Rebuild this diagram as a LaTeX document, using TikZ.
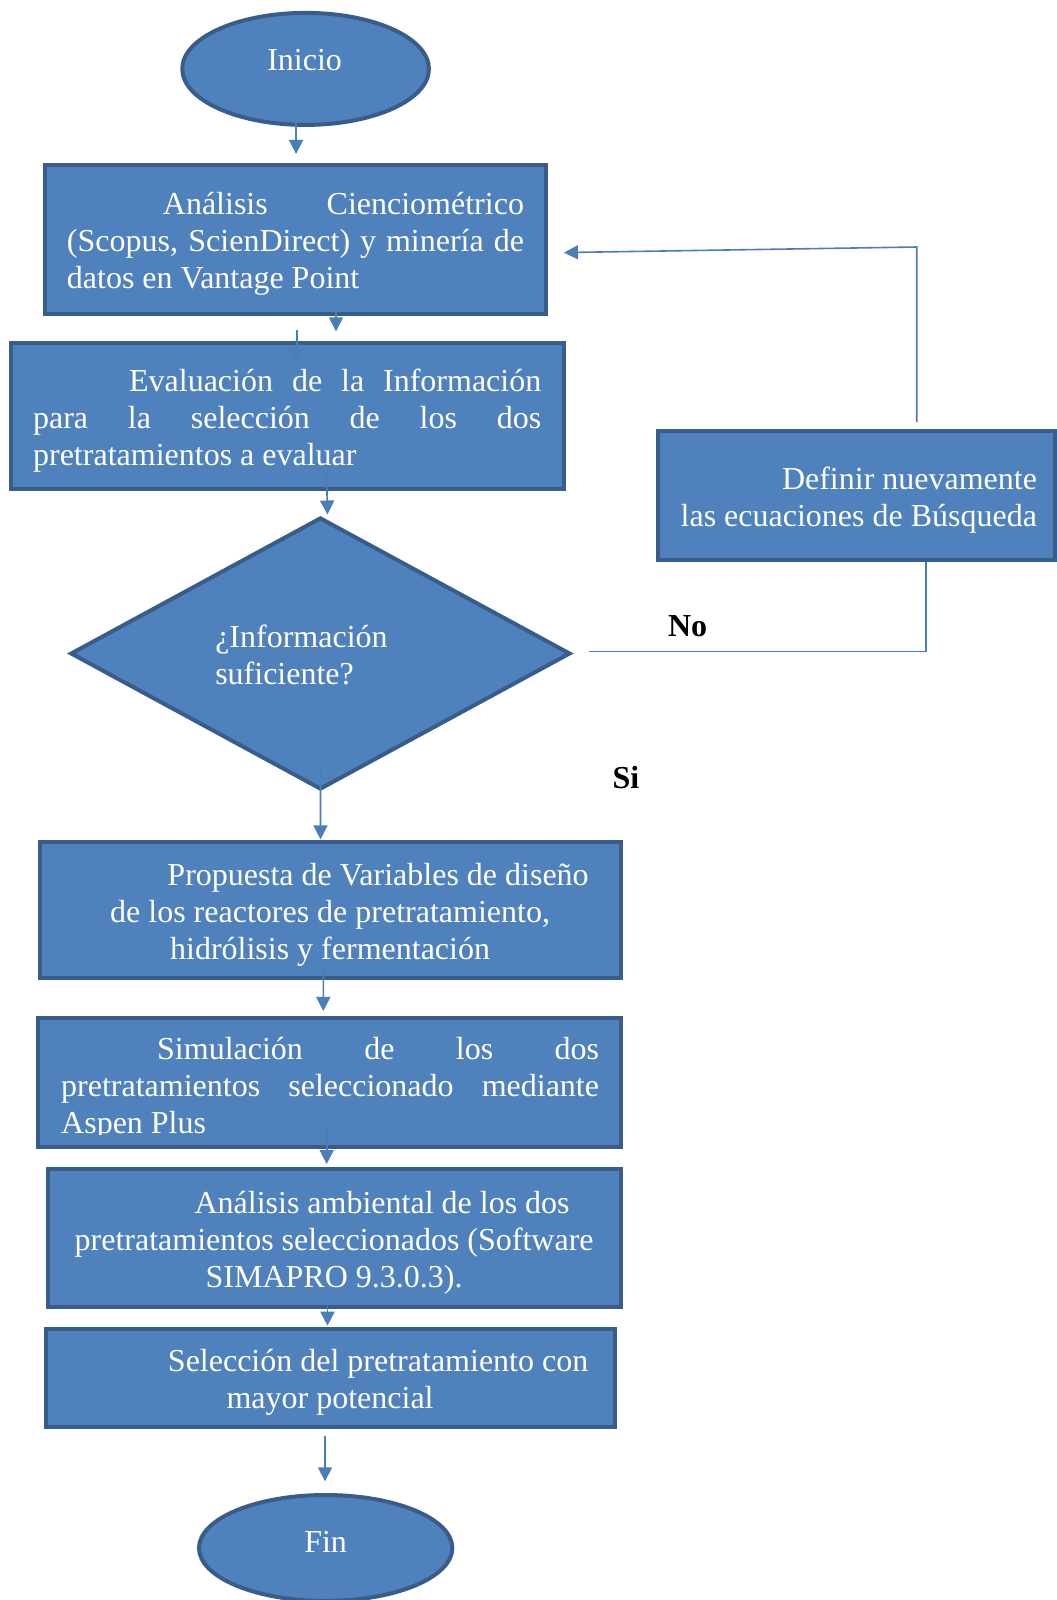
\documentclass[tikz,border=0pt]{standalone}
\usepackage{fontspec}
\setmainfont{Liberation Serif}
\usetikzlibrary{shapes.geometric,arrows.meta,calc}
\definecolor{boxfill}{HTML}{4F81BD}
\definecolor{boxline}{HTML}{385D8A}
\definecolor{linkcol}{HTML}{4A7EBB}
\newcommand{\flowfont}{\fontsize{24pt}{27.75pt}\selectfont}
% lower a text block a little without changing its size
\newcommand{\shiftdown}[1]{\raisebox{-3.3pt}[\height][\depth]{#1}}
% justified paragraph with forced line ends
\newcommand{\jpar}[2]{\shiftdown{\begin{minipage}{#1}\flowfont\hbadness=10000\pretolerance=10000\tolerance=10000\hyphenpenalty=10000\noindent #2\end{minipage}}}
% centred lines
\newcommand{\cpar}[2]{\shiftdown{\begin{minipage}{#1}\flowfont\centering #2\end{minipage}}}
% lines set flush right
\newcommand{\rpar}[2]{\shiftdown{\begin{minipage}{#1}\flowfont\raggedleft #2\end{minipage}}}
\begin{document}
\begin{tikzpicture}[x=0.75pt,y=-0.75pt,
  proc/.style={rectangle, draw=boxline, fill=boxfill, line width=3pt, inner sep=0pt, text=white, font=\flowfont},
  term/.style={ellipse, draw=boxline, fill=boxfill, line width=3pt, inner sep=0pt},
  decision/.style={diamond, draw=boxline, fill=boxfill, line width=3pt, inner sep=0pt},
  link/.style={draw=linkcol, line width=1.2pt, -{Triangle[width=10.5pt,length=10.5pt]}},
  plainlink/.style={draw=linkcol, line width=1pt},
  answer/.style={font=\flowfont\bfseries, text=black, inner sep=0pt}
]
\useasboundingbox (0,0) rectangle (1057,1600);
\clip (0,0) rectangle (1057,1600);
\fill[white] (0,0) rectangle (1057,1600);

% start
\node[term, minimum width=185pt, minimum height=84pt,
      label={[text=white,font=\flowfont,yshift=6.5pt,xshift=-0.75pt]center:Inicio}] (inicio) at (305.6,68.9) {};

% scientometric analysis
\node[proc, minimum width=376.3pt, minimum height=112pt] (box1) at (295.45,239.65)
  {\jpar{342.8pt}{\hspace*{72pt}Análisis Cienciométrico\linebreak (Scopus, ScienDirect) y minería de\linebreak datos en Vantage Point}};

% evaluation of the information
\node[proc, minimum width=414.5pt, minimum height=109.3pt] (box2) at (287.2,416.25)
  {\jpar{381.1pt}{\hspace*{72pt}Evaluación de la Información\linebreak para la selección de los dos\linebreak pretratamientos a evaluar}};

% decision
\node[decision, minimum width=374.9pt, minimum height=204pt,
      label={[text=white,font=\flowfont,align=left,xshift=-14.2pt,yshift=-1.3pt]center:{¿Información\\suficiente?}}] (dia) at (320.4,653.5) {};

% redefine search equations
\node[proc, minimum width=298.2pt, minimum height=97.2pt] (box4) at (856.5,495.5)
  {\rpar{270.75pt}{Definir nuevamente\\las ecuaciones de Búsqueda}};

% design variables
\node[proc, minimum width=435.9pt, minimum height=101.55pt] (box3) at (330.1,910.1)
  {\cpar{420pt}{\hspace*{72pt}Propuesta de Variables de diseño\\de los reactores de pretratamiento,\\hidrólisis y fermentación}};

% simulation (text cut at the lower edge of the frame)
\node[proc, minimum width=436.7pt, minimum height=96.7pt] (box5) at (329.55,1082.15) {};
\begin{scope}
  \clip ($(box5.north west)+(2,2)$) rectangle ($(box5.south east)+(-2,-13.9)$);
  \node[text=white, inner sep=0pt] (box5txt) at ($(box5.center)+(0.55,6.9)$)
    {\begin{minipage}{403.35pt}\flowfont\hbadness=10000\pretolerance=10000\tolerance=10000\hyphenpenalty=10000\noindent
     \hspace*{72pt}Simulación de los dos\linebreak pretratamientos seleccionado mediante\linebreak Aspen Plus\end{minipage}};
\end{scope}

% environmental analysis
\node[proc, minimum width=429.8pt, minimum height=103.7pt] (box6) at (334.15,1238.15)
  {\cpar{420pt}{\hspace*{72pt}Análisis ambiental de los dos\\pretratamientos seleccionados (Software\\SIMAPRO 9.3.0.3).}};

% selection
\node[proc, minimum width=426.75pt, minimum height=73.6pt] (box7) at (330.1,1378.25)
  {\cpar{420pt}{\hspace*{72pt}Selección del pretratamiento con\\mayor potencial}};

% end
\node[term, minimum width=190pt, minimum height=79.5pt,
      label={[text=white,font=\flowfont,yshift=4.7pt]center:Fin}] (fin) at (325.65,1548) {};

% branch labels
\node[answer] (no) at (687.6,626) {No};
\node[answer] (si) at (626,777.5) {Si};

% connectors
\draw[link] ($(inicio.south)+(-9.6,-21)$) -- ($(box1.north)+(0.6,-9)$);
\draw[link] ($(box1.south)+(40.55,-16.3)$) -- ($(box2.north)+(48.8,-10.1)$);
\draw[link] ($(box2.north)+(9.5,-11.7)$) -- ($(box2.north)+(9.5,21.6)$);
\draw[link] ($(box2.south)+(39.3,-19.1)$) -- ($(dia.north)+(7.1,-1)$);
\draw[link] ($(dia.south)+(0.1,-22.5)$) -- ($(box3.north)+(-9.6,-1)$);
\draw[plainlink] ($(dia.east)+(16.4,-1.8)$) -| ($(box4.south)+(69.5,0)$);
\draw[link] ($(box4.north)+(60.2,-6.5)$) -- ++(0,-175.2) -- ($(box1.east)+(15.7,12.9)$);
\draw[link] ($(box3.south)+(-6.8,-11.8)$) -- ($(box5.north)+(-6.25,-4.7)$);
\draw[link] ($(box5.south)+(-2.85,-24.9)$) -- ($(box6.north)+(-7.45,-3)$);
\draw[link] ($(box6.south)+(-6.65,-22.3)$) -- ($(box7.north)+(-2.6,-1.5)$);
\draw[link] ($(box7.south)+(-5.1,6.7)$) -- ($(fin.north)+(-0.65,-11.7)$);
\end{tikzpicture}
\end{document}
